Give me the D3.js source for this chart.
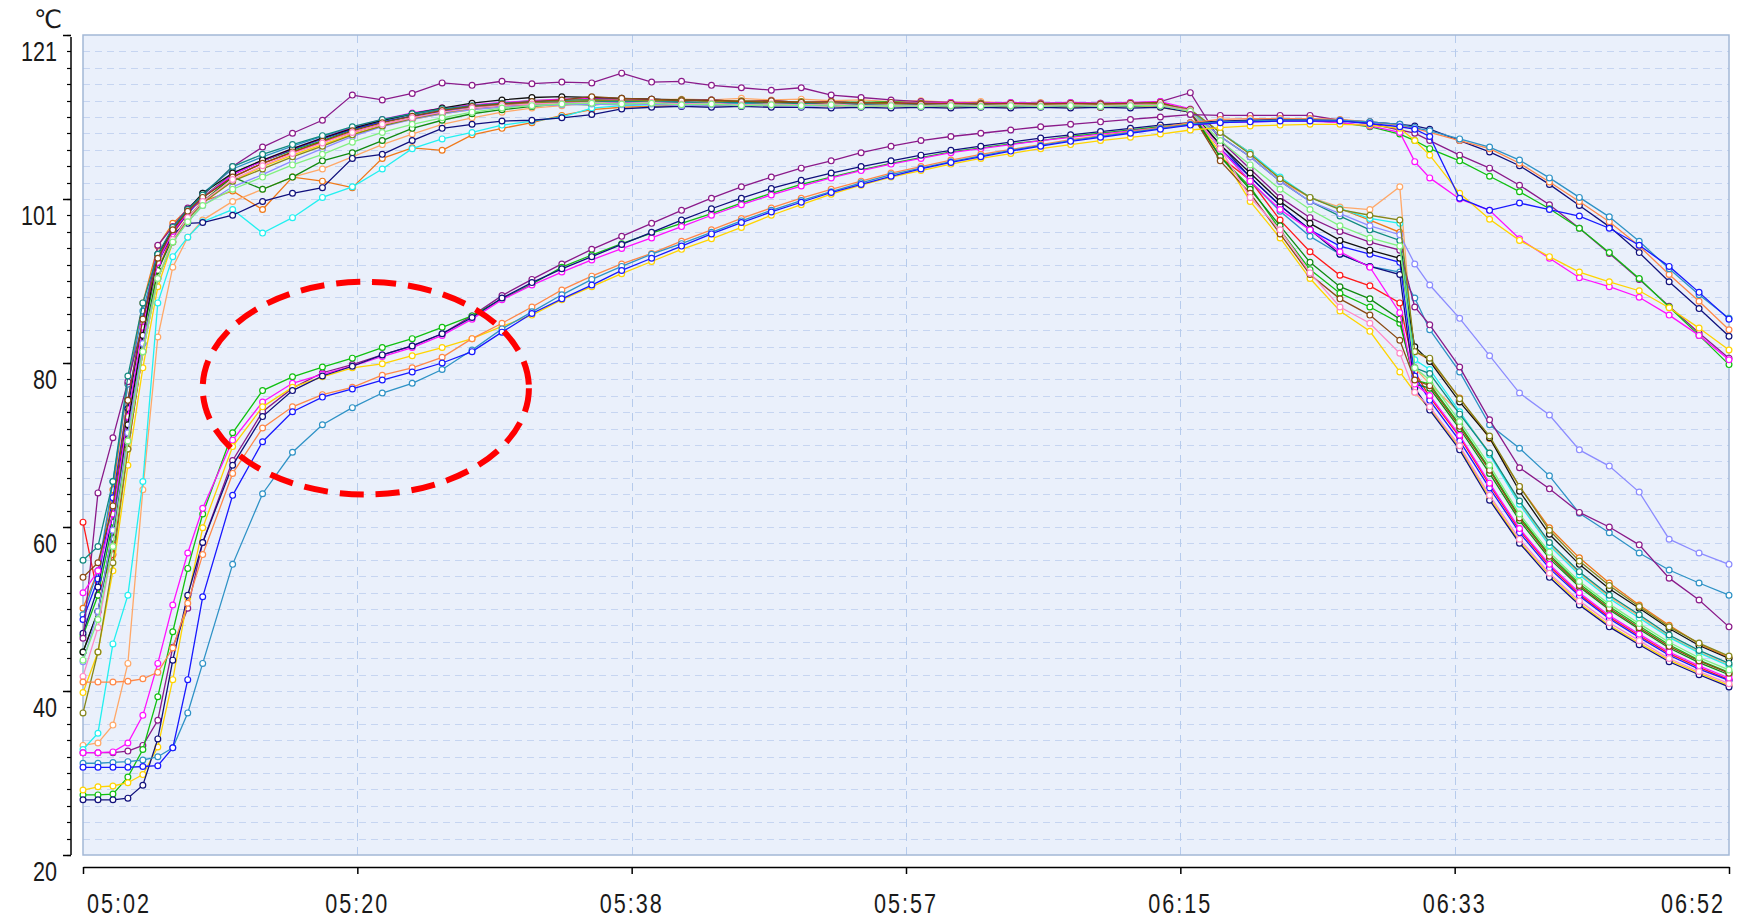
<!DOCTYPE html>
<html><head><meta charset="utf-8">
<script src="https://cdn.jsdelivr.net/npm/d3@7"></script>
<style>
html,body{margin:0;padding:0;background:#fff;}
svg{display:block;}
.lbl{font-family:"Liberation Sans",Arial,sans-serif;fill:#1a1a1a;}
</style></head><body>
<svg id="chart" width="1742" height="918"></svg>
<script>
// sample times, minutes after 05:02
const minutes = [0,1,2,3,4,5,6,7,8,
 10,12,14,16,18,20,22,24,26,28,30,32,34,36,38,40,42,44,46,48,50,52,54,56,58,60,62,64,66,68,70,72,
 74,76,78,80,82,84,86,88,89,90,92,94,96,98,100,102,104,106,108,110];
const xTickLabels = ["05:02","05:20","05:38","05:57","06:15","06:33","06:52"];
const yTickLabels = ["20","40","60","80","101","121"];
const unitLabel = "℃";

// surface / air sensors
const redA = [61,52,57,70,82,92,96.5,99,101,
 103.5,105.2,106.5,107.8,109,110,110.8,111.5,112,112.3,112.5,112.7,112.8,112.6,112.8,112.5,112.7,112.4,112.6,112.3,112.5,112.2,112.4,112.3,112.2,112.3,112.1,112.3,112.2,112.1,112.3,112.2,
 111.5,106,103.1,98.2,94.3,91.4,90.1,88,79.5,
 76.4,71.5,65.6,60,55.6,52.1,49.3,47,44.8,43.1,41.6];
const orangeA = [50.4,55,65,78,88,95,97.8,99.5,100.5,
 101.8,99.5,103.5,103,102.2,105.8,107.1,106.8,108.7,109.5,110.2,111.1,111.8,112.1,112.2,112.4,112.5,112.4,112.6,112.5,112.6,112.4,112.5,112.4,112.5,112.3,112.4,112.3,112.4,112.3,112.4,112.5,
 111.8,109,106.5,103.3,101,99.6,98.2,96.7,82,
 81,76.3,71.3,65.4,60.3,56.6,53.5,50.8,48.3,46,44.3];
const peachA = [33.5,33.8,36,43.6,65,83.8,92.4,96.1,98.2,
 100.5,102,103.5,104.5,106,107.5,108.8,110,110.8,111.5,112,112.3,112.6,112.8,113,113.1,113,113.2,113,113.1,112.9,113,112.8,112.9,112.7,112.8,112.6,112.7,112.5,112.6,112.5,112.6,
 111.5,108.5,106,103,101,99.8,99.5,102.3,80,
 78,74.5,69.5,63.4,58.3,54.7,51.8,49.4,46.9,45,43.4];
const yellowA = [40,45,55,68,80,90,95.5,98.5,100.5,
 103,104.8,106.2,107.5,108.8,109.8,110.6,111.3,111.8,112.2,112.4,112.6,112.5,112.6,112.4,112.5,112.3,112.4,112.3,112.4,112.2,112.3,112.2,112.3,112.1,112.2,112.1,112.2,112.1,112.1,112.2,112.1,
 111.5,106.5,100.5,96,91,87,84.5,79.5,77,
 75,70.2,64,58.6,54.5,51,48.3,46.1,44,42.4,40.9];
const greenA = [47,52,61,74,84,93,97,99.3,101,
 104,105.5,106.8,108,109.3,110.3,111,111.7,112.2,112.6,112.9,113,113.1,113,113.1,112.9,113,112.8,112.9,112.7,112.8,112.7,112.8,112.6,112.7,112.6,112.7,112.6,112.7,112.6,112.7,112.6,
 111.8,106,102.3,97,92.1,89.2,87.5,85.5,78.5,
 78,73,67.6,61.7,57,53.4,50.6,48.2,45.9,44,42.5];
const darkGreenA = [45,50,59,72,83,92,96,98.5,100.5,
 103.5,102,103.5,105.5,106.5,108,109.5,110.5,111.3,111.8,112.2,112.5,112.4,112.6,112.5,112.6,112.4,112.5,112.4,112.5,112.3,112.4,112.3,112.4,112.2,112.3,112.2,112.3,112.2,112.3,112.2,112.4,
 111.6,106,102,97.5,93,90,88.5,86,78,
 77.5,72.5,67,61.2,56.5,53,50.2,47.8,45.5,43.7,42.2];
const cyanA = [33,35,46,52,66,88,93.7,96.1,98,
 99.5,96.6,98.5,101,102.3,104.5,107,108.2,109,109.9,110.4,110.9,112,112.3,112.4,112.5,112.4,112.6,112.5,112.6,112.4,112.5,112.4,112.5,112.3,112.4,112.3,112.4,112.3,112.4,112.3,112.4,
 111.8,109,106.5,103.5,101,99.6,98.4,97.8,81,
 79.8,74.6,69.3,63.2,58.1,54.5,51.6,49.2,46.8,44.9,43.3];
const steelA = [49.6,55,66,78,87,94,97,99.5,101.5,
 104.5,106,107.3,108.5,109.6,110.5,111.2,111.8,112.2,112.5,112.7,112.8,112.9,112.8,112.9,112.7,112.8,112.6,112.7,112.5,112.6,112.5,112.6,112.4,112.5,112.4,112.5,112.4,112.5,112.4,112.5,112.4,
 111.8,107,103,99.3,96.2,94,92.5,91.8,88.6,
 84.7,79.5,73,70.1,66.7,62.1,59.7,57.2,55.1,53.5,52];
const blueA = [49,54,64,76,86,93.5,96.8,99,101,
 103.8,105.5,106.9,108.2,109.4,110.3,111,111.6,112,112.3,112.5,112.6,112.7,112.6,112.7,112.5,112.6,112.4,112.5,112.4,112.5,112.3,112.4,112.3,112.4,112.3,112.4,112.3,112.4,112.3,112.4,112.3,
 111.6,107,103.5,100,97,95,94,93,79,
 76,71,65.2,59.7,55.3,51.9,49.1,46.8,44.6,42.9,41.5];
const navyA = [47.3,53,62,75,86,93,96.5,97.8,97.9,
 98.8,100.5,101.5,102.2,105.8,106.3,108,109.5,110,110.4,110.5,110.8,111.2,111.9,112.1,112.2,112.1,112.2,112.1,112.1,112,112.1,112,112.1,112,112.1,112,112.1,112,112.1,112,112.1,
 111.5,107.5,103.5,100,97,94,92.5,91.5,77.5,
 74.8,69.9,63.7,58.4,54.2,50.8,48.1,45.9,43.8,42.2,40.7];
const purpleA = [46.7,64.6,71.4,78.3,85.5,95.1,97.4,99.7,101.2,
 104.8,107.2,108.9,110.5,113.6,113,113.8,115.1,114.8,115.3,115,115.2,115.1,116.3,115.2,115.3,114.8,114.5,114.2,114.5,113.6,113.3,113,112.8,112.7,112.6,112.6,112.5,112.6,112.5,112.6,112.8,
 113.9,108,104.5,101,98.5,96.8,95.5,94.5,87.5,
 85.3,80.1,73.6,67.7,65.1,62.2,60.4,58.2,54.1,51.4,48.1];
const magentaA = [52.3,55,62,74,85,93,96.8,99.2,101,
 103.8,105.5,107,108.3,109.6,110.6,111.4,112,112.4,112.7,112.9,113.1,113.2,113,113.1,112.9,113,112.8,112.9,112.7,112.8,112.6,112.7,112.6,112.7,112.6,112.7,112.6,112.7,112.6,112.7,112.8,
 111.9,107,103,99.5,97,94.3,92.4,86.8,78,
 76.6,71.7,65.8,60.2,55.8,52.3,49.5,47.2,45,43.3,41.8];
const blackA = [45,50,60,73,84,94,97,99.5,101.5,
 104,105.6,107,108.3,109.5,110.5,111.3,112,112.6,113,113.3,113.4,113.3,113.2,113.1,113,112.9,112.8,112.7,112.6,112.5,112.4,112.4,112.3,112.3,112.2,112.3,112.2,112.3,112.2,112.3,112.4,
 111.8,107.5,104,100.5,97.8,95.7,94.5,93.5,82.6,
 80.8,75.8,71.4,64.8,59.5,55.8,52.8,50.4,47.9,45.8,44.2];
const darkTealA = [56.3,58,66,79,88,94,97.3,99.5,101.3,
 104.8,106.3,107.5,108.6,109.7,110.6,111.3,111.9,112.3,112.6,112.8,112.9,112.8,112.9,112.7,112.8,112.6,112.7,112.5,112.6,112.4,112.5,112.4,112.5,112.4,112.5,112.3,112.4,112.3,112.4,112.3,112.5,
 111.7,108.5,106,103,100.5,98.7,97,95.7,80,
 79.3,74.3,69.5,63.6,58.5,54.9,52,49.6,47.1,45.2,43.6];
const lavenderA = [43.8,50,60,72,83,91,95.5,98,100,
 102.3,103.8,105.5,107,108.5,109.7,110.6,111.3,111.8,112.1,112.3,112.4,112.5,112.4,112.5,112.3,112.4,112.3,112.4,112.2,112.3,112.2,112.3,112.2,112.3,112.2,112.3,112.2,112.3,112.2,112.3,112.3,
 111.6,108.5,106,103,100.5,99,97.5,96.4,92.8,
 90.2,86.1,81.5,76.9,74.2,69.9,67.9,64.7,58.9,57.2,55.8];
const oliveA = [37.5,45,56,70,82,91,95.5,98.3,100.3,
 103,104.5,106,107.3,108.7,109.8,110.7,111.4,112,112.4,112.6,112.8,112.9,113,112.9,113,112.8,112.9,112.7,112.8,112.6,112.7,112.5,112.6,112.5,112.6,112.4,112.5,112.4,112.5,112.4,112.5,
 111.8,109,106.3,103.3,101,99.5,98.8,98.2,82,
 81.2,76.2,71.6,65.4,60,56.2,53.2,50.6,48.1,46.1,44.5];
const brownA = [54.2,56,63,76,86,93.5,97,99.3,101,
 103.5,105.2,106.6,107.9,109.2,110.2,111,111.7,112.2,112.5,112.8,113,113.4,113.2,113.1,112.9,113,112.8,112.9,112.7,112.8,112.6,112.7,112.5,112.6,112.5,112.6,112.5,112.6,112.5,112.6,112.7,
 111.5,105.5,101.5,96.5,91.5,88.5,86.5,83.4,78.5,
 77.8,72.8,67.4,61.5,56.8,53.2,50.4,48,45.7,43.9,42.4];
const pinkA = [42,48,58,71,82,91,95.8,98.5,100.5,
 103.2,104.9,106.4,107.7,109,110,110.8,111.5,112,112.3,112.5,112.6,112.7,112.6,112.7,112.5,112.6,112.4,112.5,112.4,112.5,112.3,112.4,112.3,112.4,112.3,112.4,112.3,112.4,112.3,112.4,112.4,
 111.7,107,101,97,91.7,87.5,85.5,81.8,77,
 75.2,70.4,64.3,58.9,54.7,51.3,48.6,46.4,44.2,42.6,41.1];
const lightGreenA = [44,49,58,71,82,91,95.5,98,100,
 102,103.5,105,106.3,107.8,109,110,110.8,111.5,112,112.3,112.5,112.6,112.5,112.6,112.4,112.5,112.3,112.4,112.3,112.4,112.2,112.3,112.2,112.3,112.2,112.3,112.2,112.3,112.2,112.3,112.3,
 111.6,108,105,102,99.5,97.5,96,95,80,
 78.5,73.4,68,62,57.3,53.7,50.9,48.5,46.2,44.3,42.8];

// core sensors
const purpleB = [32.6,32.6,32.6,32.8,33.5,36.6,45.6,50.4,58.5,
 68.6,74.6,77.5,79.4,80.4,81.6,82.7,84.2,86.4,88.9,90.9,92.8,94.6,96.2,97.8,99.4,100.9,102.3,103.5,104.6,105.5,106.5,107.3,108,108.5,108.9,109.3,109.7,110,110.3,110.6,110.9,
 111.2,111.1,111.1,111.1,111.1,110.5,110.1,109.3,108.9,
 108,106.2,104.6,102.5,100.1,97.2,94.1,90.9,87.6,84.3,81.2];
const greenB = [27.4,27.4,27.5,29.6,33,39.5,47.5,55.3,62,
 72,77.2,78.9,80.1,81.2,82.5,83.6,85,86.4,88.5,90.3,92.4,93.9,95.3,96.6,97.8,99,100.3,101.5,102.6,103.5,104.4,105.2,105.9,106.6,107.1,107.6,108,108.5,108.9,109.3,109.7,
 110,110.3,110.4,110.5,110.5,110.2,109.7,108.8,108,
 107,105.5,103.6,101.7,99.6,97.2,94.2,91,87.5,84,80.4];
const magentaB = [32.6,32.6,32.7,33.8,37.2,43.6,50.8,57.2,62.7,
 71.1,75.8,78.1,79.2,80.2,81.4,82.5,84,86,88.4,90.2,91.8,93.3,94.7,96,97.4,98.8,100.1,101.3,102.4,103.4,104.3,105.1,105.8,106.5,107,107.5,108,108.4,108.8,109.2,109.6,
 109.9,110.2,110.3,110.4,110.4,110.2,109.8,109,105.4,
 103.4,100.8,99.4,95.9,93.5,91.1,90,88.7,86.5,84,81];
const yellowB = [28,28.4,28.5,28.9,29.9,33.3,41.6,51.7,60.3,
 70.3,75.2,77.6,78.9,80,80.5,81.5,82.5,83.6,85.1,86.5,88.4,90,91.6,93.1,94.6,95.9,97.3,98.8,100.1,101.4,102.5,103.5,104.3,105.1,105.8,106.4,107,107.5,108,108.4,108.8,
 109.3,109.6,109.8,109.9,110,110,109.9,109.5,108,
 106.2,101.5,98.3,95.7,93.7,91.8,90.6,89.5,87.4,84.9,82.2];
const navyB = [26.8,26.8,26.8,27,28.6,34.3,44,52,58.5,
 68,74,77.2,79,80.2,81.6,82.7,84.2,86.2,88.6,90.5,92.2,93.7,95.2,96.7,98.2,99.6,100.9,102.1,103.1,104,104.8,105.5,106.2,106.8,107.3,107.8,108.3,108.7,109.1,109.5,109.9,
 110.2,110.4,110.5,110.6,110.6,110.5,110.3,110,109.8,
 109.4,108,106.6,104.9,102.6,100,97.4,94.2,90.6,87.3,83.9];
const orangeB = [41.3,41.3,41.3,41.4,41.7,42.5,45.5,51,57,
 67,72.6,75.2,76.7,77.6,79.1,80,81.3,83.6,85.5,87.5,89.6,91.3,92.8,94.1,95.6,97,98.4,99.7,100.9,102,103,104,104.8,105.6,106.3,106.9,107.5,108.1,108.6,109.1,109.6,
 110.2,110.6,110.7,110.7,110.7,110.6,110.3,109.9,109.5,
 109,108,107,105.2,102.9,100.5,98,95,91.5,88.2,84.7];
const tealB = [31.3,31.3,31.4,31.5,31.7,32.1,33.2,37.5,43.6,
 55.8,64.5,69.6,73,75.1,76.9,78.1,79.8,82.2,84.8,86.9,89,90.9,92.5,94,95.3,96.7,98.1,99.4,100.6,101.7,102.8,103.8,104.6,105.4,106.1,106.8,107.4,108,108.5,109,109.5,
 110,110.3,110.4,110.5,110.5,110.5,110.3,110,109.6,
 109.2,108.2,107.2,105.6,103.4,101,98.6,95.6,92.2,89,86.1];
const blueB = [30.8,30.8,30.8,30.8,30.9,31,33.2,41.6,51.8,
 64.3,70.9,74.6,76.4,77.4,78.5,79.5,80.6,82,84.4,86.7,88.5,90.2,92,93.5,95,96.5,97.9,99.2,100.4,101.6,102.6,103.6,104.5,105.3,106,106.7,107.3,107.9,108.4,108.9,109.4,
 109.9,110.2,110.3,110.4,110.4,110.4,110.1,109.7,109.4,
 108.5,100.9,99.4,100.3,99.5,98.7,97.2,95.1,92.5,89.3,86];

const seriesValues = [redA,orangeA,peachA,yellowA,greenA,darkGreenA,cyanA,steelA,blueA,navyA,purpleA,magentaA,blackA,darkTealA,lavenderA,oliveA,brownA,pinkA,lightGreenA,
  purpleB,greenB,magentaB,yellowB,navyB,orangeB,tealB,blueB];
const seriesColors = ["#ff1a1a","#f07818","#ffa868","#ffd400","#10c010","#108a10","#22f0f0","#2e92c6","#1818ff","#10107c","#8a1a8a","#ff10ff","#111111","#118a80","#8c8cff","#86861a","#8a4a14","#ff88c8","#80f080",
  "#8a1a8a","#10c010","#ff10ff","#ffd400","#10107c","#ff8848","#2e92c6","#1818ff"];

// annotation (data units)
const ringCenterMinutes = 18.9, ringCenterValue = 77.5;
const ringHalfMinutes = 10.9, ringHalfValue = 13.1;

// ---------- drawing ----------
const svg = d3.select("#chart");
svg.append("rect").attr("width",1742).attr("height",918).attr("fill","#ffffff");
const P = {left:83, right:1729, top:35, bottom:855};
const base = new Date(2024,0,1,5,2,0);
const at = m => new Date(base.getTime() + m*60000);
const x = d3.scaleTime().domain([at(0), at(110)]).range([P.left, P.right]);
const y = d3.scaleLinear().domain([20,121]).range([P.bottom, P.top]);

svg.append("rect").attr("x",P.left).attr("y",P.top).attr("width",P.right-P.left).attr("height",P.bottom-P.top)
  .attr("fill","#eaf0fb");

const gridVals = d3.range(1,50).map(k => 20 + k*101/50);
svg.append("g").selectAll("line").data(gridVals).join("line")
  .attr("x1",P.left).attr("x2",P.right).attr("y1",d=>Math.round(y(d))+0.5).attr("y2",d=>Math.round(y(d))+0.5)
  .attr("stroke","#c6d5f1").attr("stroke-width",1).attr("stroke-dasharray","7,5");
const xTickVals = xTickLabels.map((_,i)=>at(i*110/6));
svg.append("g").selectAll("line").data(xTickVals.slice(1,-1)).join("line")
  .attr("x1",d=>Math.round(x(d))+0.5).attr("x2",d=>Math.round(x(d))+0.5).attr("y1",P.top).attr("y2",P.bottom)
  .attr("stroke","#b6cbec").attr("stroke-width",1).attr("stroke-dasharray","8,6");

svg.append("rect").attr("x",P.left).attr("y",P.top).attr("width",P.right-P.left).attr("height",P.bottom-P.top)
  .attr("fill","none").attr("stroke","#a3b8d6").attr("stroke-width",1.5);

const line = d3.line().x((d,i)=>x(at(minutes[i]))).y(d=>y(d));
const gS = svg.append("g");
seriesValues.forEach((vals,si)=>{
  if (vals.length !== minutes.length) console.error("len", si, vals.length);
  const col = seriesColors[si];
  const g = gS.append("g");
  g.append("path").attr("d", line(vals)).attr("fill","none").attr("stroke",col).attr("stroke-width",1.3);
  g.selectAll("circle").data(vals).join("circle")
    .attr("cx",(d,i)=>x(at(minutes[i]))).attr("cy",d=>y(d)).attr("r",2.9)
    .attr("fill","#ffffff").attr("stroke",col).attr("stroke-width",1.2);
});

const cx = x(at(ringCenterMinutes)), cy = y(ringCenterValue);
svg.append("ellipse").attr("cx",cx).attr("cy",cy)
  .attr("rx", x(at(ringCenterMinutes+ringHalfMinutes)) - cx)
  .attr("ry", cy - y(ringCenterValue+ringHalfValue))
  .attr("fill","none").attr("stroke","#ff0000").attr("stroke-width",6).attr("stroke-dasharray","24,12");

// y axis
const yAxisX = 71;
const yTickVals = yTickLabels.map((_,i)=>20 + i*101/5);
const gy = svg.append("g").attr("transform",`translate(${yAxisX},0)`);
gy.append("line").attr("x1",0).attr("x2",0).attr("y1",37).attr("y2",y(20)).attr("stroke","#000").attr("stroke-width",1.5);
gy.selectAll("line.minor").data(d3.range(0,51).map(k=>20+k*101/50)).join("line").attr("class","minor")
  .attr("x1",-4).attr("x2",0).attr("y1",d=>Math.round(y(d))+0.5).attr("y2",d=>Math.round(y(d))+0.5).attr("stroke","#000").attr("stroke-width",1.2);
gy.selectAll("line.major").data(yTickVals).join("line").attr("class","major")
  .attr("x1",-8).attr("x2",0).attr("y1",d=>Math.round(y(d))+0.5).attr("y2",d=>Math.round(y(d))+0.5).attr("stroke","#000").attr("stroke-width",1.5);
gy.selectAll("text").data(yTickVals).join("text").attr("class","lbl")
  .attr("transform",d=>`translate(-14,${y(d)+26}) scale(0.8,1)`).attr("text-anchor","end")
  .attr("font-size",27).text((d,i)=>yTickLabels[i]);

// x axis
const xAxisY = 867;
const xAxis = d3.axisBottom(x).tickValues(xTickVals).tickSize(7).tickSizeOuter(0).tickFormat(()=> "");
const gx = svg.append("g").attr("transform",`translate(0,${xAxisY})`).call(xAxis);
gx.select(".domain").attr("stroke","#000").attr("stroke-width",1.5);
gx.selectAll(".tick line").attr("stroke","#000").attr("stroke-width",1.5);
svg.append("g").selectAll("text").data(xTickVals).join("text").attr("class","lbl")
  .attr("transform",(d,i)=>{
    const px = i===0 ? x(d)+4 : (i===xTickVals.length-1 ? x(d)-4 : x(d));
    return `translate(${px},913) scale(0.8,1)`;
  })
  .attr("text-anchor",(d,i)=> i===0 ? "start" : (i===xTickVals.length-1 ? "end" : "middle"))
  .attr("font-size",27).attr("letter-spacing","2.5px").text((d,i)=>xTickLabels[i]);

svg.append("text").attr("x",34).attr("y",28).attr("font-size",25)
  .attr("font-family","'DejaVu Sans',sans-serif").attr("fill","#1a1a1a").text(unitLabel);
</script>
</body></html>
